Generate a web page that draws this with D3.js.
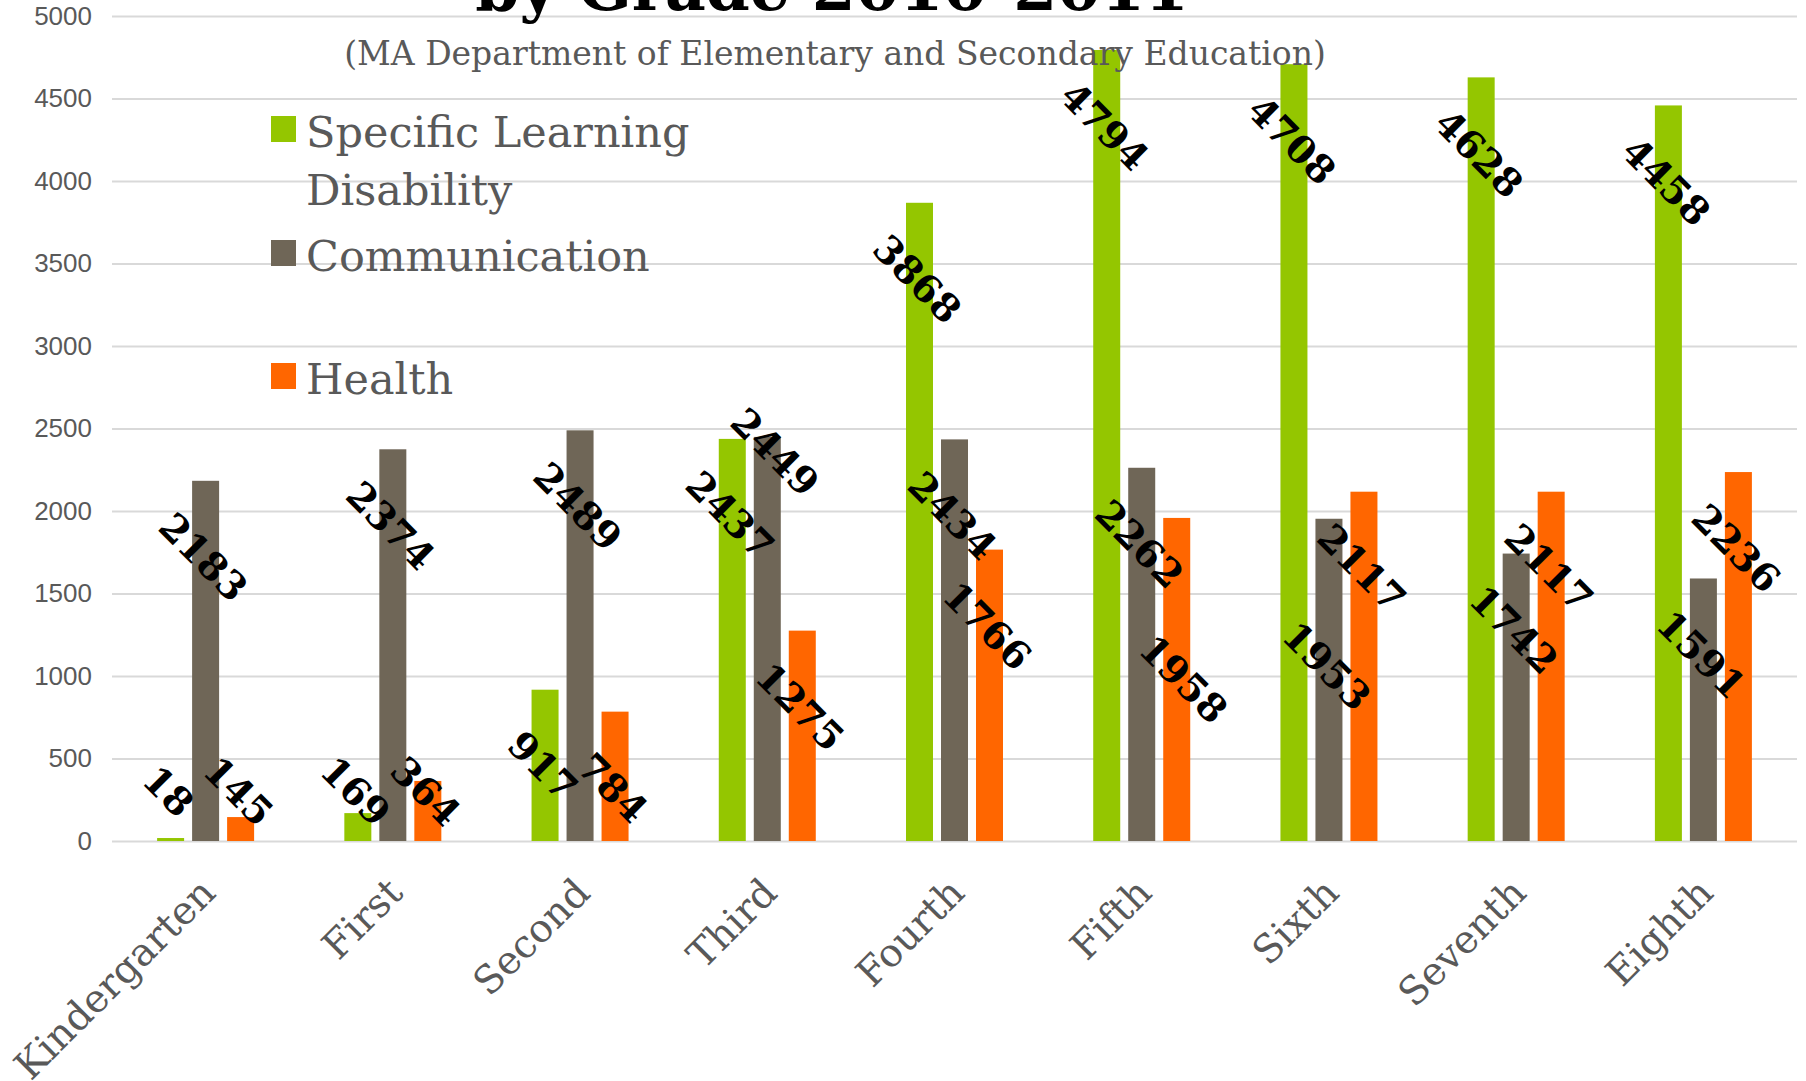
<!DOCTYPE html>
<html>
<head>
<meta charset="utf-8">
<script src="https://cdn.jsdelivr.net/npm/d3@7"></script>
<style>
  html, body { margin: 0; padding: 0; background: #ffffff; }
  svg { display: block; }
</style>
</head>
<body>
<svg id="chart" width="1806" height="1081"></svg>
<script>
// Enrollment by disability type and grade, 2010-2011
const grades = ["Kindergarten", "First", "Second", "Third", "Fourth", "Fifth", "Sixth", "Seventh", "Eighth"];
const seriesNames = ["Specific Learning Disability", "Communication", "Health"];
const learningDisability = [18, 169, 917, 2437, 3868, 4794, 4708, 4628, 4458];
const communication = [2183, 2374, 2489, 2449, 2434, 2262, 1953, 1742, 1591];
const health = [145, 364, 784, 1275, 1766, 1958, 2117, 2117, 2236];
const yTicks = [0, 500, 1000, 1500, 2000, 2500, 3000, 3500, 4000, 4500, 5000];
const titleText = "by Grade 2010-2011";
const subtitleText = "(MA Department of Elementary and Secondary Education)";

const seriesValues = [learningDisability, communication, health];
const colors = ["#94c600", "#6f6657", "#ff6600"];

// Labels moved off their default spot so they do not sit on a neighbour
const labelShift = {
  "Third|Communication": [10, -61],
  "Fifth|Health": [9, 85],
  "Sixth|Communication": [0, 71]
};

const W = 1806, H = 1081;
const plot = { left: 112, right: 1797, top: 16, bottom: 841 };
const slab = "'DejaVu Serif', serif";

const svg = d3.select("#chart");
svg.append("rect").attr("width", W).attr("height", H).attr("fill", "#ffffff");

const x = d3.scaleBand().domain(grades).range([plot.left, plot.right]).padding(0);
const groupWidth = 97;
const xInner = d3.scaleBand().domain(seriesNames).range([0, groupWidth]).paddingInner(8 / 35).paddingOuter(0);
const y = d3.scaleLinear().domain([0, 5000]).range([plot.bottom, plot.top]);

// Gridlines and value axis
const yAxis = d3.axisLeft(y)
  .tickValues(yTicks)
  .tickSize(-(plot.right - plot.left))
  .tickPadding(20)
  .tickFormat(d3.format("d"));

const gAxis = svg.append("g")
  .attr("transform", `translate(${plot.left},0)`)
  .call(yAxis);
gAxis.select(".domain").remove();
gAxis.selectAll(".tick line").attr("stroke", "#d9d9d9").attr("stroke-width", 2);
gAxis.selectAll(".tick text")
  .attr("fill", "#595959")
  .attr("font-family", "'Liberation Sans Narrow', 'Liberation Sans', Arial, sans-serif")
  .attr("font-size", 26);

// Bars
const rows = grades.map((g, i) => ({
  grade: g,
  items: seriesNames.map((s, j) => ({ grade: g, series: s, value: seriesValues[j][i], color: colors[j] }))
}));

const groups = svg.append("g").selectAll("g")
  .data(rows)
  .join("g")
  .attr("transform", d => `translate(${x(d.grade) + x.bandwidth() / 2 - groupWidth / 2},0)`);

groups.selectAll("rect")
  .data(d => d.items)
  .join("rect")
  .attr("x", d => xInner(d.series))
  .attr("width", xInner.bandwidth())
  .attr("y", d => y(d.value))
  .attr("height", d => y(0) - y(d.value))
  .attr("fill", d => d.color);

// Value labels, rotated to read down to the right
const labelFloor = plot.bottom - 50;
groups.selectAll("text.value")
  .data(d => d.items)
  .join("text")
  .attr("class", "value")
  .attr("transform", d => {
    const sh = labelShift[d.grade + "|" + d.series] || [0, 0];
    const cx = xInner(d.series) + xInner.bandwidth() / 2 - 2 + sh[0];
    const cy = Math.min(y(d.value) + 76, labelFloor) + sh[1];
    return `translate(${cx},${cy}) rotate(45)`;
  })
  .attr("text-anchor", "middle")
  .attr("dy", "0.36em")
  .attr("font-family", "'DejaVu Serif', serif")
  .attr("font-weight", "bold")
  .attr("font-size", 38)
  .attr("fill", "#000000")
  .text(d => d.value);

// Category labels
svg.append("g").selectAll("text")
  .data(grades)
  .join("text")
  .attr("transform", d => `translate(${x(d) + x.bandwidth() / 2 + 12},${plot.bottom + 54}) rotate(-45)`)
  .attr("text-anchor", "end")
  .attr("font-family", slab)
  .attr("font-size", 39)
  .attr("fill", "#595959")
  .text(d => d);

// Title and source line
svg.append("text")
  .attr("x", 832).attr("y", 10)
  .attr("text-anchor", "middle")
  .attr("font-family", "'DejaVu Serif', serif")
  .attr("font-weight", "bold")
  .attr("font-size", 63)
  .attr("fill", "#000000")
  .text(titleText);

svg.append("text")
  .attr("x", 835).attr("y", 65)
  .attr("text-anchor", "middle")
  .attr("font-family", slab)
  .attr("font-size", 33)
  .attr("fill", "#595959")
  .text(subtitleText);

// Legend
const legendItems = [
  { lines: ["Specific Learning", "Disability"], color: colors[0], top: 116 },
  { lines: ["Communication"], color: colors[1], top: 240 },
  { lines: ["Health"], color: colors[2], top: 363 }
];
const legend = svg.append("g");
legendItems.forEach(item => {
  legend.append("rect")
    .attr("x", 271).attr("y", item.top)
    .attr("width", 25).attr("height", 26)
    .attr("fill", item.color);
  const t = legend.append("text")
    .attr("x", 306).attr("y", item.top + 31)
    .attr("font-family", slab)
    .attr("font-size", 43)
    .attr("fill", "#595959");
  item.lines.forEach((ln, k) => {
    t.append("tspan").attr("x", 306).attr("dy", k === 0 ? 0 : 58).text(ln);
  });
});
</script>
</body>
</html>
